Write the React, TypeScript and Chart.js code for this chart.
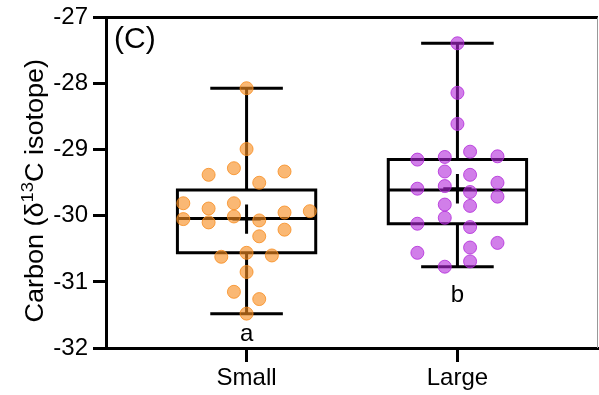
import { useEffect, useRef } from 'react';
import { Chart, registerables } from 'chart.js';

Chart.register(...registerables);

// ---------- data ----------
const categories = ['Small', 'Large'];
const yTicks = [-32, -31, -30, -29, -28, -27];
const groupLetters = ['a', 'b'];
const letterY = [-31.8, -31.21];
const panelLabel = '(C)';
const yTitleParts = ['Carbon (δ', '13', 'C isotope)'];

const smallValues = [
  -28.07, -28.99, -29.38, -29.28, -29.33, -29.5, -29.81, -29.89, -29.81, -30.05, -30.1, -30.01,
  -30.07, -29.95, -29.93, -30.21, -30.31, -30.62, -30.56, -30.6, -30.85, -31.15, -31.26, -31.48,
];
const smallJitter = [
  0, 0, -0.18, -0.06, 0.18, 0.06, -0.3, -0.18, -0.06, -0.3, -0.18, -0.06,
  0.06, 0.18, 0.3, 0.18, 0.06, -0.12, 0, 0.12, 0, -0.06, 0.06, 0,
];
const largeValues = [
  -27.39, -28.14, -28.61, -29.15, -29.11, -29.03, -29.1, -29.33, -29.38, -29.5, -29.59, -29.55,
  -29.64, -29.71, -29.83, -29.85, -30.03, -30.12, -30.17, -30.41, -30.56, -30.48, -30.69, -30.77,
];
const largeJitter = [
  0, 0, 0, -0.19, -0.06, 0.06, 0.19, -0.06, 0.06, 0.19, -0.19, -0.06,
  0.06, 0.19, -0.06, 0.06, -0.06, -0.19, 0.06, 0.19, -0.19, 0.06, 0.06, -0.06,
];

// box statistics per category
const q1 = [-30.56, -30.12];
const q3 = [-29.61, -29.15];
const medians = [-30.04, -29.61];
const means = [-30.05, -29.59];
const whiskerLow = [-31.48, -30.77];
const whiskerHigh = [-28.07, -27.39];

// ---------- styles ----------
const FONT = '"Liberation Sans", Arial, sans-serif';
const BOX_HALF = 0.328;
const CAP_HALF = 0.165;
const MEAN_HALF_X = 0.06;
const MEAN_HALF_Y = 0.2;
const pointFill = ['rgba(247,140,30,0.62)', 'rgba(178,40,218,0.6)'];
const pointBorder = ['rgba(247,140,30,0.8)', 'rgba(178,40,218,0.8)'];

type P = { x: number; y: number | null };

function boxSegments(i: number): P[] {
  const c = i + 1;
  const pts: P[] = [];
  const seg = (a: [number, number][]) => {
    if (pts.length) pts.push({ x: a[0][0], y: null });
    a.forEach(([x, y]) => pts.push({ x, y }));
  };
  seg([
    [c - BOX_HALF, q1[i]],
    [c + BOX_HALF, q1[i]],
    [c + BOX_HALF, q3[i]],
    [c - BOX_HALF, q3[i]],
    [c - BOX_HALF, q1[i]],
  ]);
  seg([[c - BOX_HALF, medians[i]], [c + BOX_HALF, medians[i]]]);
  seg([[c, q3[i]], [c, whiskerHigh[i]]]);
  seg([[c - CAP_HALF, whiskerHigh[i]], [c + CAP_HALF, whiskerHigh[i]]]);
  seg([[c, q1[i]], [c, whiskerLow[i]]]);
  seg([[c - CAP_HALF, whiskerLow[i]], [c + CAP_HALF, whiskerLow[i]]]);
  seg([[c, means[i] - MEAN_HALF_Y], [c, means[i] + MEAN_HALF_Y]]);
  seg([[c - MEAN_HALF_X, means[i]], [c + MEAN_HALF_X, means[i]]]);
  return pts;
}

const framePlugin = {
  id: 'frame',
  afterDraw(chart: any) {
    const { ctx, chartArea, scales } = chart;
    const { left, right, top, bottom } = chartArea;
    ctx.save();
    ctx.strokeStyle = '#000';
    ctx.lineWidth = 3;
    ctx.beginPath();
    ctx.moveTo(left - 1.5, top);
    ctx.lineTo(right, top);
    ctx.stroke();
    ctx.strokeStyle = '#999';
    ctx.lineWidth = 1;
    ctx.beginPath();
    ctx.moveTo(right - 0.5, top);
    ctx.lineTo(right - 0.5, bottom);
    ctx.stroke();

    ctx.fillStyle = '#000';
    ctx.font = `24px ${FONT}`;
    ctx.textAlign = 'center';
    ctx.textBaseline = 'middle';
    groupLetters.forEach((t, i) => {
      ctx.fillText(t, scales.x.getPixelForValue(i + 1), scales.y.getPixelForValue(letterY[i]));
    });
    ctx.font = `30px ${FONT}`;
    ctx.textAlign = 'left';
    ctx.textBaseline = 'middle';
    ctx.fillText(panelLabel, left + 8, top + 22);

    // rotated y-axis title with superscript
    const big = `25px ${FONT}`;
    const small = `17px ${FONT}`;
    ctx.font = big;
    const w1 = ctx.measureText(yTitleParts[0]).width;
    const w3 = ctx.measureText(yTitleParts[2]).width;
    ctx.font = small;
    const w2 = ctx.measureText(yTitleParts[1]).width;
    const total = w1 + w2 + w3;
    ctx.translate(43, (top + bottom) / 2 + 8);
    ctx.rotate(-Math.PI / 2);
    ctx.scale(1.08, 1);
    ctx.textAlign = 'left';
    ctx.textBaseline = 'alphabetic';
    let x = -total / 2;
    ctx.font = big;
    ctx.fillText(yTitleParts[0], x, 0);
    x += w1;
    ctx.font = small;
    ctx.fillText(yTitleParts[1], x, -10);
    x += w2;
    ctx.font = big;
    ctx.fillText(yTitleParts[2], x, 0);
    ctx.restore();
  },
};

const noPad = (s: any) => {
  s.paddingTop = 0;
  s.paddingBottom = 0;
  s.paddingLeft = 0;
  s.paddingRight = 0;
};

export default function App() {
  const ref = useRef<HTMLCanvasElement>(null);
  useEffect(() => {
    document.body.style.margin = '0';
    const canvas = ref.current;
    if (!canvas) return;
    const groups = [
      { values: smallValues, jitter: smallJitter },
      { values: largeValues, jitter: largeJitter },
    ];
    const datasets: any[] = [];
    groups.forEach((g, i) => {
      datasets.push({
        type: 'scatter',
        label: categories[i],
        data: g.values.map((v, k) => ({ x: i + 1 + g.jitter[k], y: v })),
        backgroundColor: pointFill[i],
        borderColor: pointBorder[i],
        borderWidth: 1,
        pointRadius: 6.5,
        order: 0,
      });
    });
    categories.forEach((c, i) => {
      datasets.push({
        type: 'line',
        label: c + ' box',
        data: boxSegments(i),
        borderColor: '#000',
        borderWidth: 3,
        pointRadius: 0,
        tension: 0,
        fill: false,
        spanGaps: false,
        borderCapStyle: 'square',
        borderJoinStyle: 'miter',
        order: 1,
      });
    });

    const chart = new Chart(canvas, {
      type: 'scatter',
      data: { datasets },
      options: {
        animation: false,
        responsive: false,
        devicePixelRatio: 1,
        layout: { autoPadding: false, padding: { top: 17.5, right: 1, left: 0, bottom: 0 } },
        plugins: { legend: { display: false }, tooltip: { enabled: false } },
        scales: {
          x: {
            type: 'linear',
            min: 1 / 3,
            max: 8 / 3,
            afterBuildTicks: (s: any) => {
              s.ticks = categories.map((_, i) => ({ value: i + 1 }));
            },
            afterFit: (s: any) => {
              s.height = 395 - 348;
              noPad(s);
            },
            ticks: {
              autoSkip: false,
              maxRotation: 0,
              padding: 2,
              color: '#000',
              font: { family: FONT, size: 24 },
              callback: (v: any) => categories[Math.round(v) - 1] ?? '',
            },
            grid: {
              display: true,
              drawOnChartArea: false,
              drawTicks: true,
              tickLength: 14,
              tickWidth: 3,
              tickColor: '#000',
            },
            border: { display: true, color: '#000', width: 3 },
          },
          y: {
            type: 'linear',
            min: yTicks[0],
            max: yTicks[yTicks.length - 1],
            afterBuildTicks: (s: any) => {
              s.ticks = yTicks.map((v) => ({ value: v }));
            },
            afterFit: (s: any) => {
              s.width = 106;
              noPad(s);
            },
            ticks: {
              padding: 5,
              color: '#000',
              font: { family: FONT, size: 24 },
              callback: (v: any) => String(v),
            },
            grid: {
              display: true,
              drawOnChartArea: false,
              drawTicks: true,
              tickLength: 13,
              tickWidth: 3,
              tickColor: '#000',
            },
            border: { display: true, color: '#000', width: 3 },
          },
        },
      },
      plugins: [framePlugin],
    });
    return () => chart.destroy();
  }, []);
  return <canvas ref={ref} width={599} height={395} style={{ display: 'block' }} />;
}
